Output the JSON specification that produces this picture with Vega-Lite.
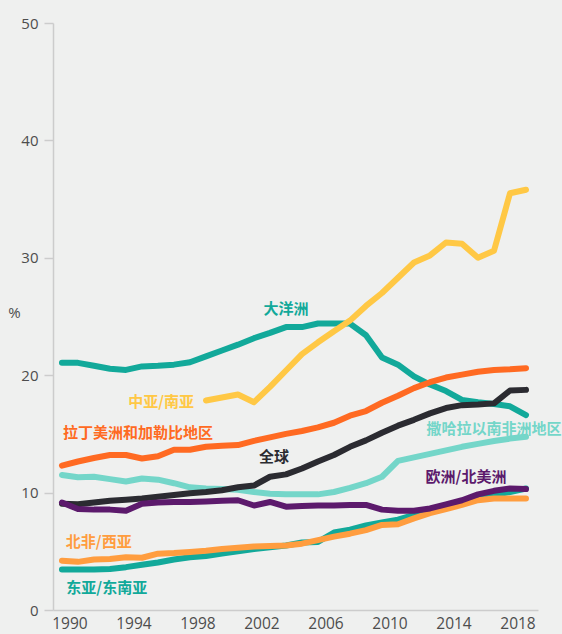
{
  "$schema": "https://vega.github.io/schema/vega-lite/v6.json",
  "width": 485,
  "height": 587,
  "autosize": {"type": "none"},
  "padding": {"left": 53, "top": 23, "right": 24, "bottom": 24},
  "background": "#eff0ef",
  "config": {"view": {"stroke": null}, "font": "Open Sans"},
  "layer": [
    {
      "data": {"values": [
        {"region":"撒哈拉以南非洲地区","year":1990,"value":11.5},{"region":"撒哈拉以南非洲地区","year":1991,"value":11.3},{"region":"撒哈拉以南非洲地区","year":1992,"value":11.35},{"region":"撒哈拉以南非洲地区","year":1993,"value":11.15},{"region":"撒哈拉以南非洲地区","year":1994,"value":10.95},{"region":"撒哈拉以南非洲地区","year":1995,"value":11.2},{"region":"撒哈拉以南非洲地区","year":1996,"value":11.1},{"region":"撒哈拉以南非洲地区","year":1997,"value":10.8},{"region":"撒哈拉以南非洲地区","year":1998,"value":10.45},{"region":"撒哈拉以南非洲地区","year":1999,"value":10.35},{"region":"撒哈拉以南非洲地区","year":2000,"value":10.3},{"region":"撒哈拉以南非洲地区","year":2001,"value":10.25},{"region":"撒哈拉以南非洲地区","year":2002,"value":10.05},{"region":"撒哈拉以南非洲地区","year":2003,"value":9.9},{"region":"撒哈拉以南非洲地区","year":2004,"value":9.85},{"region":"撒哈拉以南非洲地区","year":2005,"value":9.85},{"region":"撒哈拉以南非洲地区","year":2006,"value":9.85},{"region":"撒哈拉以南非洲地区","year":2007,"value":10.05},{"region":"撒哈拉以南非洲地区","year":2008,"value":10.4},{"region":"撒哈拉以南非洲地区","year":2009,"value":10.8},{"region":"撒哈拉以南非洲地区","year":2010,"value":11.35},{"region":"撒哈拉以南非洲地区","year":2011,"value":12.7},{"region":"撒哈拉以南非洲地区","year":2012,"value":13.0},{"region":"撒哈拉以南非洲地区","year":2013,"value":13.3},{"region":"撒哈拉以南非洲地区","year":2014,"value":13.6},{"region":"撒哈拉以南非洲地区","year":2015,"value":13.9},{"region":"撒哈拉以南非洲地区","year":2016,"value":14.15},{"region":"撒哈拉以南非洲地区","year":2017,"value":14.4},{"region":"撒哈拉以南非洲地区","year":2018,"value":14.6},{"region":"撒哈拉以南非洲地区","year":2019,"value":14.75},
        {"region":"东亚/东南亚","year":1990,"value":3.45},{"region":"东亚/东南亚","year":1991,"value":3.45},{"region":"东亚/东南亚","year":1992,"value":3.45},{"region":"东亚/东南亚","year":1993,"value":3.5},{"region":"东亚/东南亚","year":1994,"value":3.65},{"region":"东亚/东南亚","year":1995,"value":3.85},{"region":"东亚/东南亚","year":1996,"value":4.05},{"region":"东亚/东南亚","year":1997,"value":4.3},{"region":"东亚/东南亚","year":1998,"value":4.5},{"region":"东亚/东南亚","year":1999,"value":4.6},{"region":"东亚/东南亚","year":2000,"value":4.8},{"region":"东亚/东南亚","year":2001,"value":5.0},{"region":"东亚/东南亚","year":2002,"value":5.2},{"region":"东亚/东南亚","year":2003,"value":5.35},{"region":"东亚/东南亚","year":2004,"value":5.5},{"region":"东亚/东南亚","year":2005,"value":5.75},{"region":"东亚/东南亚","year":2006,"value":5.8},{"region":"东亚/东南亚","year":2007,"value":6.6},{"region":"东亚/东南亚","year":2008,"value":6.85},{"region":"东亚/东南亚","year":2009,"value":7.2},{"region":"东亚/东南亚","year":2010,"value":7.45},{"region":"东亚/东南亚","year":2011,"value":7.7},{"region":"东亚/东南亚","year":2012,"value":8.1},{"region":"东亚/东南亚","year":2013,"value":8.45},{"region":"东亚/东南亚","year":2014,"value":8.8},{"region":"东亚/东南亚","year":2015,"value":9.15},{"region":"东亚/东南亚","year":2016,"value":9.5},{"region":"东亚/东南亚","year":2017,"value":9.8},{"region":"东亚/东南亚","year":2018,"value":10.05},{"region":"东亚/东南亚","year":2019,"value":10.35},
        {"region":"北非/西亚","year":1990,"value":4.2},{"region":"北非/西亚","year":1991,"value":4.1},{"region":"北非/西亚","year":1992,"value":4.3},{"region":"北非/西亚","year":1993,"value":4.35},{"region":"北非/西亚","year":1994,"value":4.5},{"region":"北非/西亚","year":1995,"value":4.45},{"region":"北非/西亚","year":1996,"value":4.8},{"region":"北非/西亚","year":1997,"value":4.85},{"region":"北非/西亚","year":1998,"value":4.95},{"region":"北非/西亚","year":1999,"value":5.05},{"region":"北非/西亚","year":2000,"value":5.2},{"region":"北非/西亚","year":2001,"value":5.3},{"region":"北非/西亚","year":2002,"value":5.4},{"region":"北非/西亚","year":2003,"value":5.45},{"region":"北非/西亚","year":2004,"value":5.5},{"region":"北非/西亚","year":2005,"value":5.65},{"region":"北非/西亚","year":2006,"value":5.95},{"region":"北非/西亚","year":2007,"value":6.25},{"region":"北非/西亚","year":2008,"value":6.5},{"region":"北非/西亚","year":2009,"value":6.8},{"region":"北非/西亚","year":2010,"value":7.25},{"region":"北非/西亚","year":2011,"value":7.3},{"region":"北非/西亚","year":2012,"value":7.8},{"region":"北非/西亚","year":2013,"value":8.25},{"region":"北非/西亚","year":2014,"value":8.6},{"region":"北非/西亚","year":2015,"value":8.95},{"region":"北非/西亚","year":2016,"value":9.35},{"region":"北非/西亚","year":2017,"value":9.5},{"region":"北非/西亚","year":2018,"value":9.5},{"region":"北非/西亚","year":2019,"value":9.5},
        {"region":"大洋洲","year":1990,"value":21.05},{"region":"大洋洲","year":1991,"value":21.05},{"region":"大洋洲","year":1992,"value":20.8},{"region":"大洋洲","year":1993,"value":20.55},{"region":"大洋洲","year":1994,"value":20.45},{"region":"大洋洲","year":1995,"value":20.75},{"region":"大洋洲","year":1996,"value":20.8},{"region":"大洋洲","year":1997,"value":20.9},{"region":"大洋洲","year":1998,"value":21.1},{"region":"大洋洲","year":1999,"value":21.6},{"region":"大洋洲","year":2000,"value":22.1},{"region":"大洋洲","year":2001,"value":22.6},{"region":"大洋洲","year":2002,"value":23.15},{"region":"大洋洲","year":2003,"value":23.6},{"region":"大洋洲","year":2004,"value":24.1},{"region":"大洋洲","year":2005,"value":24.1},{"region":"大洋洲","year":2006,"value":24.4},{"region":"大洋洲","year":2007,"value":24.4},{"region":"大洋洲","year":2008,"value":24.4},{"region":"大洋洲","year":2009,"value":23.4},{"region":"大洋洲","year":2010,"value":21.5},{"region":"大洋洲","year":2011,"value":20.9},{"region":"大洋洲","year":2012,"value":19.9},{"region":"大洋洲","year":2013,"value":19.2},{"region":"大洋洲","year":2014,"value":18.65},{"region":"大洋洲","year":2015,"value":17.9},{"region":"大洋洲","year":2016,"value":17.7},{"region":"大洋洲","year":2017,"value":17.55},{"region":"大洋洲","year":2018,"value":17.35},{"region":"大洋洲","year":2019,"value":16.6},
        {"region":"中亚/南亚","year":1999,"value":17.85},{"region":"中亚/南亚","year":2000,"value":18.1},{"region":"中亚/南亚","year":2001,"value":18.35},{"region":"中亚/南亚","year":2002,"value":17.7},{"region":"中亚/南亚","year":2003,"value":19.0},{"region":"中亚/南亚","year":2004,"value":20.4},{"region":"中亚/南亚","year":2005,"value":21.8},{"region":"中亚/南亚","year":2006,"value":22.8},{"region":"中亚/南亚","year":2007,"value":23.75},{"region":"中亚/南亚","year":2008,"value":24.65},{"region":"中亚/南亚","year":2009,"value":25.9},{"region":"中亚/南亚","year":2010,"value":27.0},{"region":"中亚/南亚","year":2011,"value":28.3},{"region":"中亚/南亚","year":2012,"value":29.6},{"region":"中亚/南亚","year":2013,"value":30.2},{"region":"中亚/南亚","year":2014,"value":31.3},{"region":"中亚/南亚","year":2015,"value":31.2},{"region":"中亚/南亚","year":2016,"value":30.0},{"region":"中亚/南亚","year":2017,"value":30.6},{"region":"中亚/南亚","year":2018,"value":35.5},{"region":"中亚/南亚","year":2019,"value":35.8},
        {"region":"拉丁美洲和加勒比地区","year":1990,"value":12.3},{"region":"拉丁美洲和加勒比地区","year":1991,"value":12.65},{"region":"拉丁美洲和加勒比地区","year":1992,"value":12.95},{"region":"拉丁美洲和加勒比地区","year":1993,"value":13.2},{"region":"拉丁美洲和加勒比地区","year":1994,"value":13.2},{"region":"拉丁美洲和加勒比地区","year":1995,"value":12.9},{"region":"拉丁美洲和加勒比地区","year":1996,"value":13.1},{"region":"拉丁美洲和加勒比地区","year":1997,"value":13.65},{"region":"拉丁美洲和加勒比地区","year":1998,"value":13.65},{"region":"拉丁美洲和加勒比地区","year":1999,"value":13.9},{"region":"拉丁美洲和加勒比地区","year":2000,"value":14.0},{"region":"拉丁美洲和加勒比地区","year":2001,"value":14.05},{"region":"拉丁美洲和加勒比地区","year":2002,"value":14.4},{"region":"拉丁美洲和加勒比地区","year":2003,"value":14.7},{"region":"拉丁美洲和加勒比地区","year":2004,"value":15.0},{"region":"拉丁美洲和加勒比地区","year":2005,"value":15.25},{"region":"拉丁美洲和加勒比地区","year":2006,"value":15.55},{"region":"拉丁美洲和加勒比地区","year":2007,"value":15.95},{"region":"拉丁美洲和加勒比地区","year":2008,"value":16.55},{"region":"拉丁美洲和加勒比地区","year":2009,"value":16.95},{"region":"拉丁美洲和加勒比地区","year":2010,"value":17.65},{"region":"拉丁美洲和加勒比地区","year":2011,"value":18.25},{"region":"拉丁美洲和加勒比地区","year":2012,"value":18.9},{"region":"拉丁美洲和加勒比地区","year":2013,"value":19.4},{"region":"拉丁美洲和加勒比地区","year":2014,"value":19.8},{"region":"拉丁美洲和加勒比地区","year":2015,"value":20.05},{"region":"拉丁美洲和加勒比地区","year":2016,"value":20.3},{"region":"拉丁美洲和加勒比地区","year":2017,"value":20.45},{"region":"拉丁美洲和加勒比地区","year":2018,"value":20.5},{"region":"拉丁美洲和加勒比地区","year":2019,"value":20.6},
        {"region":"全球","year":1990,"value":9.05},{"region":"全球","year":1991,"value":9.0},{"region":"全球","year":1992,"value":9.15},{"region":"全球","year":1993,"value":9.3},{"region":"全球","year":1994,"value":9.4},{"region":"全球","year":1995,"value":9.5},{"region":"全球","year":1996,"value":9.65},{"region":"全球","year":1997,"value":9.8},{"region":"全球","year":1998,"value":9.95},{"region":"全球","year":1999,"value":10.05},{"region":"全球","year":2000,"value":10.2},{"region":"全球","year":2001,"value":10.45},{"region":"全球","year":2002,"value":10.6},{"region":"全球","year":2003,"value":11.35},{"region":"全球","year":2004,"value":11.55},{"region":"全球","year":2005,"value":12.05},{"region":"全球","year":2006,"value":12.65},{"region":"全球","year":2007,"value":13.2},{"region":"全球","year":2008,"value":13.9},{"region":"全球","year":2009,"value":14.45},{"region":"全球","year":2010,"value":15.1},{"region":"全球","year":2011,"value":15.7},{"region":"全球","year":2012,"value":16.2},{"region":"全球","year":2013,"value":16.75},{"region":"全球","year":2014,"value":17.2},{"region":"全球","year":2015,"value":17.45},{"region":"全球","year":2016,"value":17.5},{"region":"全球","year":2017,"value":17.6},{"region":"全球","year":2018,"value":18.7},{"region":"全球","year":2019,"value":18.75},
        {"region":"欧洲/北美洲","year":1990,"value":9.15},{"region":"欧洲/北美洲","year":1991,"value":8.6},{"region":"欧洲/北美洲","year":1992,"value":8.55},{"region":"欧洲/北美洲","year":1993,"value":8.55},{"region":"欧洲/北美洲","year":1994,"value":8.45},{"region":"欧洲/北美洲","year":1995,"value":9.05},{"region":"欧洲/北美洲","year":1996,"value":9.15},{"region":"欧洲/北美洲","year":1997,"value":9.2},{"region":"欧洲/北美洲","year":1998,"value":9.2},{"region":"欧洲/北美洲","year":1999,"value":9.25},{"region":"欧洲/北美洲","year":2000,"value":9.3},{"region":"欧洲/北美洲","year":2001,"value":9.35},{"region":"欧洲/北美洲","year":2002,"value":8.9},{"region":"欧洲/北美洲","year":2003,"value":9.2},{"region":"欧洲/北美洲","year":2004,"value":8.8},{"region":"欧洲/北美洲","year":2005,"value":8.85},{"region":"欧洲/北美洲","year":2006,"value":8.9},{"region":"欧洲/北美洲","year":2007,"value":8.9},{"region":"欧洲/北美洲","year":2008,"value":8.95},{"region":"欧洲/北美洲","year":2009,"value":8.95},{"region":"欧洲/北美洲","year":2010,"value":8.55},{"region":"欧洲/北美洲","year":2011,"value":8.45},{"region":"欧洲/北美洲","year":2012,"value":8.45},{"region":"欧洲/北美洲","year":2013,"value":8.65},{"region":"欧洲/北美洲","year":2014,"value":9.0},{"region":"欧洲/北美洲","year":2015,"value":9.35},{"region":"欧洲/北美洲","year":2016,"value":9.85},{"region":"欧洲/北美洲","year":2017,"value":10.15},{"region":"欧洲/北美洲","year":2018,"value":10.35},{"region":"欧洲/北美洲","year":2019,"value":10.3}
      ]},
      "mark": {"type": "line", "strokeWidth": 6, "strokeCap": "round", "strokeJoin": "round"},
      "encoding": {
        "x": {"field": "year", "type": "quantitative",
              "scale": {"domain": [1989.44, 2019.75], "nice": false, "zero": false},
              "axis": {"values": [1990, 1994, 1998, 2002, 2006, 2010, 2014, 2018], "format": "d", "title": null,
                       "ticks": false, "labelOffset": 7.5, "labelPadding": 6, "labelFlush": false,
                       "labelFont": "Open Sans", "labelFontSize": 15.5, "labelColor": "#4d4d4d",
                       "domainColor": "#cccccc", "domainWidth": 1.5, "grid": false}},
        "y": {"field": "value", "type": "quantitative",
              "scale": {"domain": [0, 50], "nice": false},
              "axis": {"values": [0, 10, 20, 30, 40, 50], "title": "%", "titleAngle": 0, "titleX": -39, "titleY": 289,
                       "titleAlign": "center", "titleBaseline": "middle", "titleFont": "Open Sans", "titleFontSize": 15,
                       "titleFontWeight": "normal", "titleColor": "#4d4d4d",
                       "tickSize": 9, "tickColor": "#cccccc", "tickWidth": 1.5, "labelPadding": 6,
                       "labelFont": "Open Sans", "labelFontSize": 15, "labelColor": "#4d4d4d",
                       "domainColor": "#cccccc", "domainWidth": 1.5, "grid": false}},
        "color": {"field": "region", "type": "nominal", "legend": null,
                  "scale": {"domain": ["撒哈拉以南非洲地区", "东亚/东南亚", "北非/西亚", "大洋洲", "中亚/南亚", "拉丁美洲和加勒比地区", "全球", "欧洲/北美洲"],
                            "range": ["#74d6c9", "#12a99a", "#ff9d3f", "#12a99a", "#ffc845", "#ff6a22", "#2b2b31", "#5c1a6c"]}}
      }
    },
    {
      "data": {"values": [
        {"region":"大洋洲","year":2004.0,"value":25.6},
        {"region":"中亚/南亚","year":1996.2,"value":17.75},
        {"region":"拉丁美洲和加勒比地区","year":1994.75,"value":15.05},
        {"region":"全球","year":2003.25,"value":13.0},
        {"region":"撒哈拉以南非洲地区","year":2017.0,"value":15.45},
        {"region":"欧洲/北美洲","year":2015.25,"value":11.35},
        {"region":"北非/西亚","year":1992.3,"value":5.75},
        {"region":"东亚/东南亚","year":1992.8,"value":1.85}
      ]},
      "mark": {"type": "text", "font": "Noto Sans CJK SC", "fontWeight": "bold", "fontSize": 15, "align": "center", "baseline": "middle"},
      "encoding": {
        "x": {"field": "year", "type": "quantitative"},
        "y": {"field": "value", "type": "quantitative"},
        "text": {"field": "region"},
        "color": {"field": "region", "type": "nominal", "legend": null}
      }
    }
  ]
}
